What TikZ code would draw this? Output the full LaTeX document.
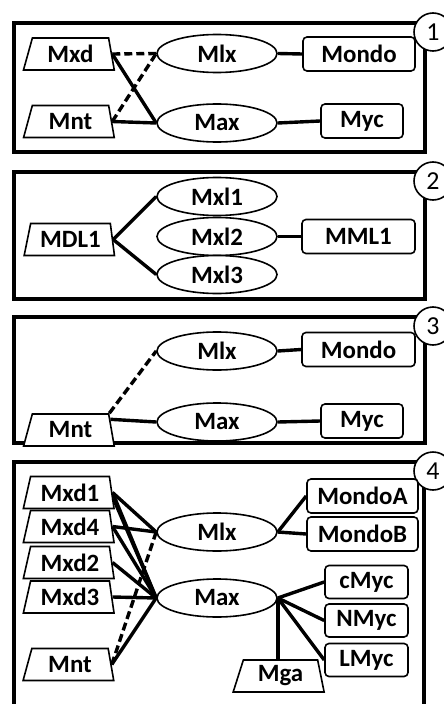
\documentclass[tikz,border=0pt]{standalone}
\usepackage{fontspec}
\setmainfont{Carlito}
\usetikzlibrary{shapes.geometric}
\begin{document}
\begin{tikzpicture}[x=1bp,y=-1bp,
  font=\bfseries\fontsize{25}{27}\selectfont,
  frame/.style={draw,line width=3.2bp},
  tag/.style={circle,draw,fill=white,line width=1.6bp,minimum size=38bp,inner sep=0pt,font=\fontsize{26}{28}\selectfont},
  trap/.style={trapezium,trapezium left angle=73,trapezium right angle=79,trapezium stretches=true,
    minimum width=91bp,minimum height=32bp,inner sep=0pt,draw,fill=white,line width=1.6bp},
  oval/.style={ellipse,draw,fill=white,minimum width=120bp,minimum height=38bp,inner sep=0pt,line width=1.6bp},
  box/.style={rectangle,rounded corners=4bp,draw,fill=white,minimum height=34bp,inner sep=0pt,line width=1.6bp},
  link/.style={line width=3.4bp},
  weak/.style={line width=3.4bp,dash pattern=on 8bp off 4bp},
]
\clip (0,0) rectangle (444,704);
\fill[white] (0,0) rectangle (444,704);

% ---------- panel 1 ----------
\draw[frame] (14,23) rectangle (425,152);
\node[tag] (t1) at (433,32) {1};
\node[trap] (a1) at (70.5,54) {Mxd};
\node[trap] (b1) at (70.5,121.5) {Mnt};
\node[oval] (c1) at (217,53.5) {Mlx};
\node[oval] (d1) at (217,123) {Max};
\node[box,minimum width=112bp] (e1) at (359,54) {Mondo};
\node[box,minimum width=82bp] (f1) at (362,121) {Myc};
\draw[weak] (a1.east) -- (c1.west);
\draw[link] (a1.east) -- (d1.west);
\draw[weak] (b1.east) -- (c1.west);
\draw[link] (b1.east) -- (d1.west);
\draw[link] (c1.east) -- (e1.west);
\draw[link] (d1.east) -- (f1.west);

% ---------- panel 2 ----------
\draw[frame] (14,172) rectangle (425,299);
\node[tag] (t2) at (433,181) {2};
\node[trap] (a2) at (70.5,239.5) {MDL1};
\node[oval] (c2) at (217,196.5) {Mxl1};
\node[oval] (d2) at (217,236.5) {Mxl2};
\node[oval] (g2) at (217,274.5) {Mxl3};
\node[box,minimum width=113bp] (e2) at (358.5,236.5) {MML1};
\draw[link] (a2.east) -- (c2.west);
\draw[link] (a2.east) -- (g2.west);
\draw[link] (d2.east) -- (e2.west);

% ---------- panel 3 ----------
\draw[frame] (14,317) rectangle (425,443);
\node[tag] (t3) at (433,326) {3};
\node[oval] (c3) at (217,351) {Mlx};
\node[oval] (d3) at (217,422) {Max};
\node[box,minimum width=113bp] (e3) at (358.5,349.5) {Mondo};
\node[box,minimum width=82bp] (f3) at (362,421) {Myc};
\node[trap] (b3) at (70.5,430) {Mnt};
\draw[weak] (b3.top right corner) -- (c3.west);
\draw[link] (b3.15) -- (d3.west);
\draw[link] (c3.east) -- (e3.west);
\draw[link] (d3.east) -- (f3.west);

% ---------- panel 4 ----------
\draw[frame] (14,462) rectangle (424,720);
\node[tag] (t4) at (433,471) {4};
\node[trap] (m1) at (70,492.5) {Mxd1};
\node[trap] (m4) at (70,526.5) {Mxd4};
\node[trap] (m2) at (70,562.5) {Mxd2};
\node[trap] (m3) at (70,597) {Mxd3};
\node[trap] (b4) at (70,664.5) {Mnt};
\node[oval] (c4) at (217,532) {Mlx};
\node[oval] (d4) at (217,598) {Max};
\node[box,minimum width=111bp] (ea) at (362.5,496) {MondoA};
\node[box,minimum width=111bp] (eb) at (362.5,534) {MondoB};
\node[box,minimum width=83bp,minimum height=33bp] (mc) at (366.5,582) {cMyc};
\node[box,minimum width=83bp,minimum height=33bp] (mn) at (366.5,620.5) {NMyc};
\node[box,minimum width=83bp,minimum height=33bp] (ml) at (366.5,660) {LMyc};
\node[trap] (ga) at (280.5,676) {Mga};
\draw[link] (m1.east) -- (c4.west);
\draw[link] (m1.east) -- (d4.west);
\draw[link] (m1.-8) -- (d4.west);
\draw[link] (m4.east) -- (c4.west);
\draw[link] (m4.east) -- (d4.west);
\draw[link] (m2.east) -- (d4.west);
\draw[link] (m3.east) -- (d4.west);
\draw[weak] (b4.east) -- (c4.west);
\draw[link] (b4.east) -- (d4.west);
\draw[link] (c4.east) -- (ea.west);
\draw[link] (c4.east) -- (eb.west);
\draw[link] (d4.east) -- (mc.west);
\draw[link] (d4.east) -- (mn.west);
\draw[link] (d4.east) -- (ml.west);
\draw[link] (d4.east) -- (d4.east |- ga.north);
\end{tikzpicture}
\end{document}
